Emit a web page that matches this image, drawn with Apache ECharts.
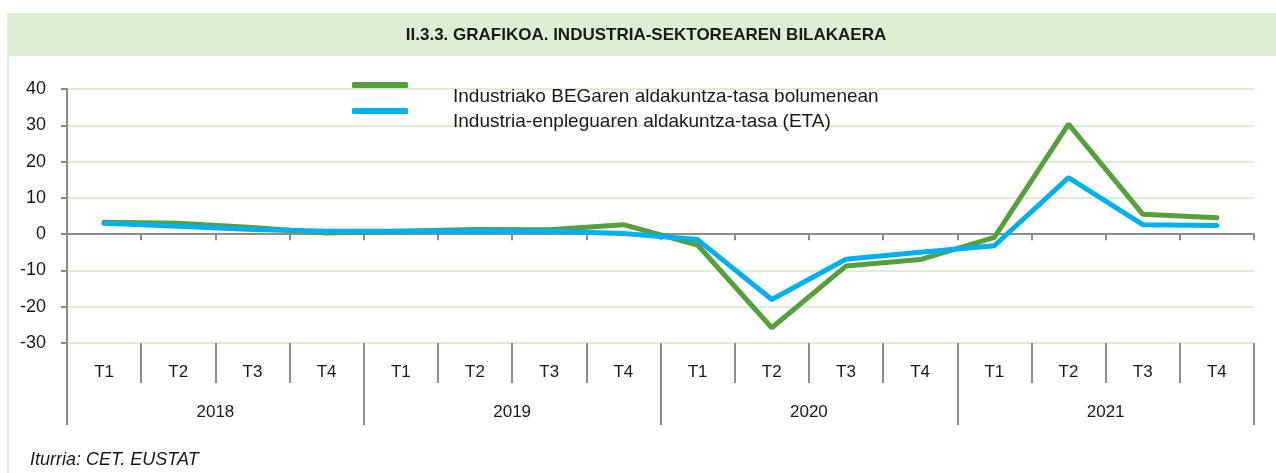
<!DOCTYPE html>
<html>
<head>
<meta charset="utf-8">
<title>Industria-sektorearen bilakaera</title>
<script src="https://cdn.jsdelivr.net/npm/echarts@6/dist/echarts.min.js"></script>
<style>
  html, body { margin: 0; padding: 0; background: #fff; }
  #chart { width: 1276px; height: 473px; }
</style>
</head>
<body>
<div id="chart"></div>
<script>
// hiruhilekoak eta urteak
const quarters = ['T1', 'T2', 'T3', 'T4', 'T1', 'T2', 'T3', 'T4', 'T1', 'T2', 'T3', 'T4', 'T1', 'T2', 'T3', 'T4']
const years = ['2018', '2019', '2020', '2021']

// BEG industria (bolumena)
const begValues = [3.3, 3.0, 1.8, 0.3, 0.8, 1.3, 1.2, 2.6, -3.0, -25.8, -8.8, -7.0, -0.9, 30.3, 5.5, 4.5]
// industria-enplegua (ETA)
const etaValues = [3.0, 2.2, 1.3, 0.8, 0.8, 0.9, 0.8, 0.2, -1.5, -18.0, -6.9, -5.0, -3.2, 15.6, 2.6, 2.4]

const seriesNames = ['Industriako BEGaren aldakuntza-tasa bolumenean', 'Industria-enpleguaren aldakuntza-tasa (ETA)']
const yTicks = { min: -30, max: 40, interval: 10 }

const green = '#55a03a'
const blue = '#00b0f0'
const axisGrey = '#8c8c8c'
const lightGreen = '#dcefd5'
const textColor = '#1a1a1a'
const font = '"Liberation Sans", Arial, sans-serif'

const chart = echarts.init(document.getElementById('chart'))

chart.setOption({
  animation: false,
  textStyle: { fontFamily: font },

  // goiburuko banda eta ezkerreko marra
  graphic: [
    {
      type: 'rect',
      shape: { x: 7, y: 13, width: 1269, height: 43 },
      style: { fill: lightGreen },
      silent: true
    },
    {
      type: 'rect',
      shape: { x: 7, y: 56, width: 2, height: 417 },
      style: { fill: lightGreen },
      silent: true
    }
  ],

  title: [
    {
      text: 'II.3.3. GRAFIKOA. INDUSTRIA-SEKTOREAREN BILAKAERA',
      left: 646,
      top: 27,
      textAlign: 'center',
      padding: 0,
      textStyle: { fontFamily: font, fontSize: 17, fontWeight: 'bold', color: textColor }
    },
    {
      text: 'Iturria: CET. EUSTAT',
      left: 30,
      top: 451,
      padding: 0,
      textStyle: { fontFamily: font, fontSize: 18, fontStyle: 'italic', fontWeight: 'normal', color: textColor }
    }
  ],

  legend: [
    {
      // marrak bakarrik
      orient: 'vertical',
      left: 352,
      top: 82,
      padding: 0,
      itemGap: 20,
      itemWidth: 56,
      itemHeight: 6,
      icon: 'roundRect',
      formatter: () => '',
      data: seriesNames
    },
    {
      // testuak, marrekiko behera lerratuta
      orient: 'vertical',
      left: 447,
      top: 87,
      padding: 0,
      itemGap: 5,
      itemWidth: 1,
      itemHeight: 1,
      icon: 'rect',
      itemStyle: { opacity: 0 },
      lineStyle: { opacity: 0 },
      textStyle: { fontSize: 19, lineHeight: 20, color: textColor },
      data: seriesNames
    }
  ],

  grid: {
    left: 67,
    right: 22,
    top: 89,
    bottom: 130,
    containLabel: false
  },

  xAxis: [
    {
      // zero ardatza
      type: 'category',
      data: quarters,
      boundaryGap: true,
      axisLine: { show: true, onZero: true, lineStyle: { color: axisGrey, width: 2 } },
      axisTick: { show: true, interval: 0, length: 6, lineStyle: { color: axisGrey, width: 2 } },
      axisLabel: { show: false },
      splitLine: { show: false }
    },
    {
      // hiruhilekoen etiketak
      type: 'category',
      position: 'bottom',
      data: quarters,
      axisLine: { show: false, onZero: false },
      axisTick: { show: true, interval: 0, length: 40, lineStyle: { color: axisGrey, width: 2 } },
      axisLabel: { margin: 21, fontSize: 17, color: textColor, interval: 0 },
      splitLine: { show: false }
    },
    {
      // urteak
      type: 'category',
      position: 'bottom',
      data: years,
      axisLine: { show: false, onZero: false },
      axisTick: { show: true, interval: 0, length: 82, lineStyle: { color: axisGrey, width: 2 } },
      axisLabel: { margin: 61, fontSize: 17, color: textColor, interval: 0 },
      splitLine: { show: false }
    }
  ],

  yAxis: {
    type: 'value',
    min: yTicks.min,
    max: yTicks.max,
    interval: yTicks.interval,
    axisLine: { show: true, lineStyle: { color: axisGrey, width: 2 } },
    axisTick: { show: true, length: 6, lineStyle: { color: axisGrey, width: 2 } },
    axisLabel: { fontSize: 18, color: textColor, margin: 21 },
    splitLine: { lineStyle: { color: lightGreen, width: 2 } }
  },

  series: [
    {
      name: seriesNames[0],
      type: 'line',
      xAxisIndex: 0,
      data: begValues,
      symbol: 'none',
      color: green,
      lineStyle: { color: green, width: 5, cap: 'round' }
    },
    {
      name: seriesNames[1],
      type: 'line',
      xAxisIndex: 0,
      data: etaValues,
      symbol: 'none',
      color: blue,
      lineStyle: { color: blue, width: 5, cap: 'round' }
    }
  ]
})
</script>
</body>
</html>
